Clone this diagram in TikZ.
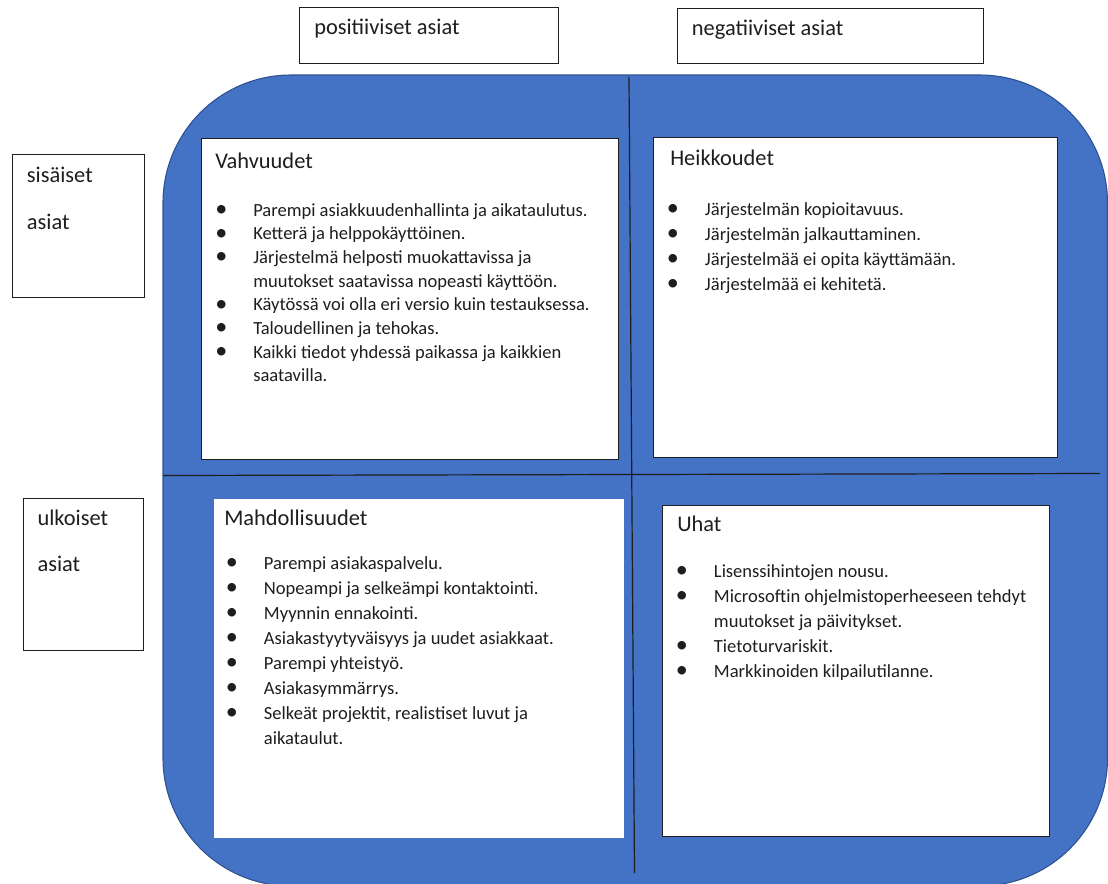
\documentclass[tikz,border=0pt]{standalone}
\usepackage{fontspec}
\setmainfont{Carlito}
\definecolor{swotblue}{HTML}{4472C4}
\definecolor{swotedge}{HTML}{2F528F}
\definecolor{inkc}{HTML}{1E1E1E}
\newcommand{\bul}{\makebox[24pt][l]{\makebox[0pt][c]{\raisebox{-0.25pt}{\scalebox{1.3}{\textbullet}}}}}
\newcommand{\wrp}{\hspace*{24pt}}
\begin{document}
\begin{tikzpicture}[x=0.75pt,y=-0.75pt,
  sbox/.style={draw=inkc, line width=0.8pt, fill=white, inner sep=0pt, anchor=north west},
  wbox/.style={fill=white, inner sep=0pt, anchor=north west},
  hdr/.style={font=\fontsize{16.8pt}{20pt}\selectfont, text=inkc, inner sep=0pt, anchor=base west},
  lst/.style={font=\fontsize{13.9pt}{18.75pt}\selectfont, text=inkc, inner sep=0pt, anchor=base west},
  divider/.style={draw=inkc, line width=0.9pt},
  blueshape/.style={fill=swotblue, draw=swotedge, line width=0.8pt, rounded corners=96pt}]
\useasboundingbox (0,0) rectangle (1108,883);
\clip (0,0) rectangle (1108,883);
\fill[white] (0,0) rectangle (1108,883);
% blue rounded background
\draw[blueshape] (163,75) rectangle (1107.5,886);
% dividers
\coordinate (vtop) at (629,77);
\coordinate (vbot) at (634.5,873);
\coordinate (hleft) at (163,475.5);
\coordinate (hright) at (1100,473.5);
\draw[divider] (vtop) -- (vbot);
\draw[divider] (hleft) -- (hright);
% header boxes
\node[sbox, minimum width=194pt, minimum height=42.2pt] (posbox) at (299,7) {};
\node[sbox, minimum width=230pt, minimum height=41.25pt] (negbox) at (676.7,8.3) {};
\node[sbox, minimum width=99.5pt, minimum height=107pt] (sisbox) at (11.7,154) {};
\node[sbox, minimum width=90.5pt, minimum height=114.2pt] (ulkbox) at (22.7,497.7) {};
\node[hdr] (postxt) at (314,34.3) {positiiviset asiat};
\node[hdr] (negtxt) at (691.7,35) {negatiiviset asiat};
\node[hdr] (sistxt1) at (26.7,182.3) {sisäiset};
\node[hdr] (sistxt2) at (26.7,229) {asiat};
\node[hdr] (ulktxt1) at (37.3,525) {ulkoiset};
\node[hdr] (ulktxt2) at (37.3,571.7) {asiat};
% quadrant boxes
\node[sbox, minimum width=312.5pt, minimum height=241pt] (vahbox) at (201,138) {};
\node[sbox, minimum width=302.5pt, minimum height=239.8pt] (heibox) at (653.3,137) {};
\node[wbox, minimum width=307.7pt, minimum height=254.5pt] (mahbox) at (213.8,498.3) {};
\node[sbox, minimum width=290.7pt, minimum height=248.3pt] (uhabox) at (661.7,505) {};
% titles
\node[hdr] (vahtitle) at (215,168) {Vahvuudet};
\node[hdr] (heititle) at (670,165) {Heikkoudet};
\node[hdr] (mahtitle) at (224,525.7) {Mahdollisuudet};
\node[hdr] (uhatitle) at (677,531.7) {Uhat};
% lists
\node[lst, font=\fontsize{13.9pt}{17.78pt}\selectfont] (vahlist) at (221,216) {\begin{tabular}[t]{@{}l@{}}
\bul Parempi asiakkuudenhallinta ja aikataulutus.\\
\bul Ketterä ja helppokäyttöinen.\\
\bul Järjestelmä helposti muokattavissa ja\\
\wrp muutokset saatavissa nopeasti käyttöön.\\
\bul Käytössä voi olla eri versio kuin testauksessa.\\
\bul Taloudellinen ja tehokas.\\
\bul Kaikki tiedot yhdessä paikassa ja kaikkien\\
\wrp saatavilla.
\end{tabular}};
\node[lst] (heilist) at (672.7,215) {\begin{tabular}[t]{@{}l@{}}
\bul Järjestelmän kopioitavuus.\\
\bul Järjestelmän jalkauttaminen.\\
\bul Järjestelmää ei opita käyttämään.\\
\bul Järjestelmää ei kehitetä.
\end{tabular}};
\node[lst] (mahlist) at (231.7,569.3) {\begin{tabular}[t]{@{}l@{}}
\bul Parempi asiakaspalvelu.\\
\bul Nopeampi ja selkeämpi kontaktointi.\\
\bul Myynnin ennakointi.\\
\bul Asiakastyytyväisyys ja uudet asiakkaat.\\
\bul Parempi yhteistyö.\\
\bul Asiakasymmärrys.\\
\bul Selkeät projektit, realistiset luvut ja\\
\wrp aikataulut.
\end{tabular}};
\node[lst] (uhalist) at (681.7,577.3) {\begin{tabular}[t]{@{}l@{}}
\bul Lisenssihintojen nousu.\\
\bul Microsoftin ohjelmistoperheeseen tehdyt\\
\wrp muutokset ja päivitykset.\\
\bul Tietoturvariskit.\\
\bul Markkinoiden kilpailutilanne.
\end{tabular}};
\end{tikzpicture}
\end{document}
